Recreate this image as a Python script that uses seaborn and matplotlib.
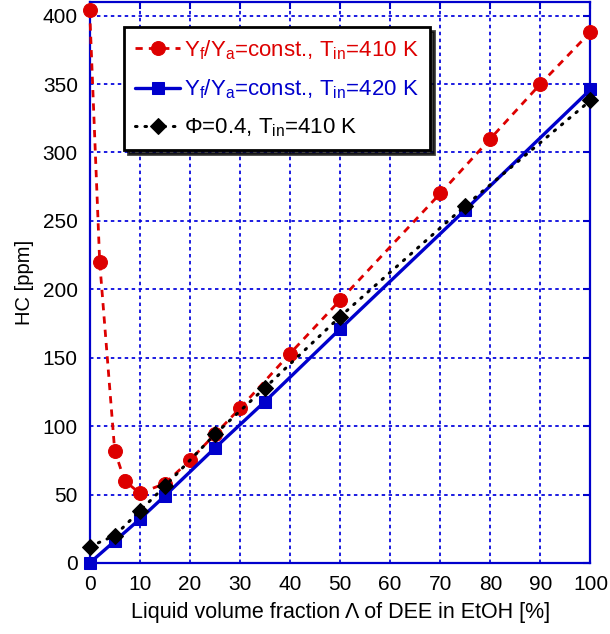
import matplotlib
matplotlib.use("Agg")
import matplotlib.pyplot as plt
import seaborn as sns
import pandas as pd

# DEE volume fraction [%] and unburned hydrocarbons [ppm]
x_red = [0, 2, 5, 7, 10, 15, 20, 25, 30, 40, 50, 70, 80, 90, 100]
hc_red = [404, 220, 82, 60, 51, 58, 75, 94, 113, 153, 192, 270, 310, 350, 388]

x_blue = [0, 5, 10, 15, 25, 35, 50, 75, 100]
hc_blue = [0, 16, 32, 49, 84, 118, 171, 258, 346]

x_black = [0, 5, 10, 15, 25, 35, 50, 75, 100]
hc_black = [12, 20, 38, 56, 94, 128, 180, 261, 338]

labels = [
    r"Y$_\mathrm{f}$/Y$_\mathrm{a}$=const., T$_\mathrm{in}$=410 K",
    r"Y$_\mathrm{f}$/Y$_\mathrm{a}$=const., T$_\mathrm{in}$=420 K",
    r"Φ=0.4, T$_\mathrm{in}$=410 K",
]
xticks = list(range(0, 101, 10))
yticks = list(range(0, 401, 50))

RED = "#dd0000"
BLUE = "#0000cc"
GRID = "#0000dd"

sns.set_theme(style="white")
plt.rcParams["font.family"] = ["Liberation Sans", "DejaVu Sans"]
plt.rcParams["mathtext.fontset"] = "custom"
plt.rcParams["mathtext.rm"] = "Liberation Sans"
plt.rcParams["mathtext.it"] = "Liberation Sans:italic"
plt.rcParams["mathtext.bf"] = "Liberation Sans:bold"

fig = plt.figure(figsize=(6.10, 6.34), dpi=100)
ax = fig.add_axes([0.147, 0.112, 0.821, 0.885])

df_red = pd.DataFrame({"x": x_red, "hc": hc_red})
df_blue = pd.DataFrame({"x": x_blue, "hc": hc_blue})
df_black = pd.DataFrame({"x": x_black, "hc": hc_black})

sns.lineplot(data=df_red, x="x", y="hc", ax=ax, color=RED, marker="o",
             markersize=10, markeredgecolor=RED, linewidth=2.0,
             linestyle=(0, (2.6, 2.2)), label=labels[0], clip_on=False,
             zorder=3)
sns.lineplot(data=df_blue, x="x", y="hc", ax=ax, color=BLUE, marker="s",
             markersize=9, markeredgecolor=BLUE, linewidth=2.4,
             linestyle="-", label=labels[1], clip_on=False, zorder=4)
sns.lineplot(data=df_black, x="x", y="hc", ax=ax, color="black", marker="D",
             markersize=8, markeredgecolor="black", linewidth=2.2,
             linestyle=(0, (0.5, 2.6)), dash_capstyle="round",
             label=labels[2], clip_on=False, zorder=5)

ax.set_xlim(0, 100)
ax.set_ylim(0, 410)
ax.set_xticks(xticks)
ax.set_yticks(yticks)
ax.grid(True, color=GRID, linestyle=(0, (2, 2)), linewidth=1.25)
ax.set_axisbelow(True)

for sp in ax.spines.values():
    sp.set_color(BLUE)
    sp.set_linewidth(1.6)
ax.tick_params(axis="both", direction="in", length=5, width=1.5,
               color=BLUE, labelcolor="black", labelsize=15,
               top=True, right=True, pad=8.5)

ax.set_xlabel("Liquid volume fraction Λ of DEE in EtOH [%]", fontsize=15.5,
              labelpad=6, color="black")
ax.set_ylabel("HC [ppm]", fontsize=14.5, labelpad=6, color="black")

leg = ax.legend(loc="upper left", bbox_to_anchor=(0.069, 0.955),
                borderaxespad=0, fontsize=16, labelcolor="linecolor",
                frameon=True, fancybox=False, handlelength=2.0,
                handletextpad=0.2, labelspacing=0.7, borderpad=0.5,
                shadow={"ox": 3, "oy": -3, "color": "black", "alpha": 0.75})
leg.get_frame().set_edgecolor("black")
leg.get_frame().set_linewidth(2.0)
leg.get_frame().set_facecolor("white")
leg.get_frame().set_alpha(1)

fig.savefig("out.png", dpi=100)
